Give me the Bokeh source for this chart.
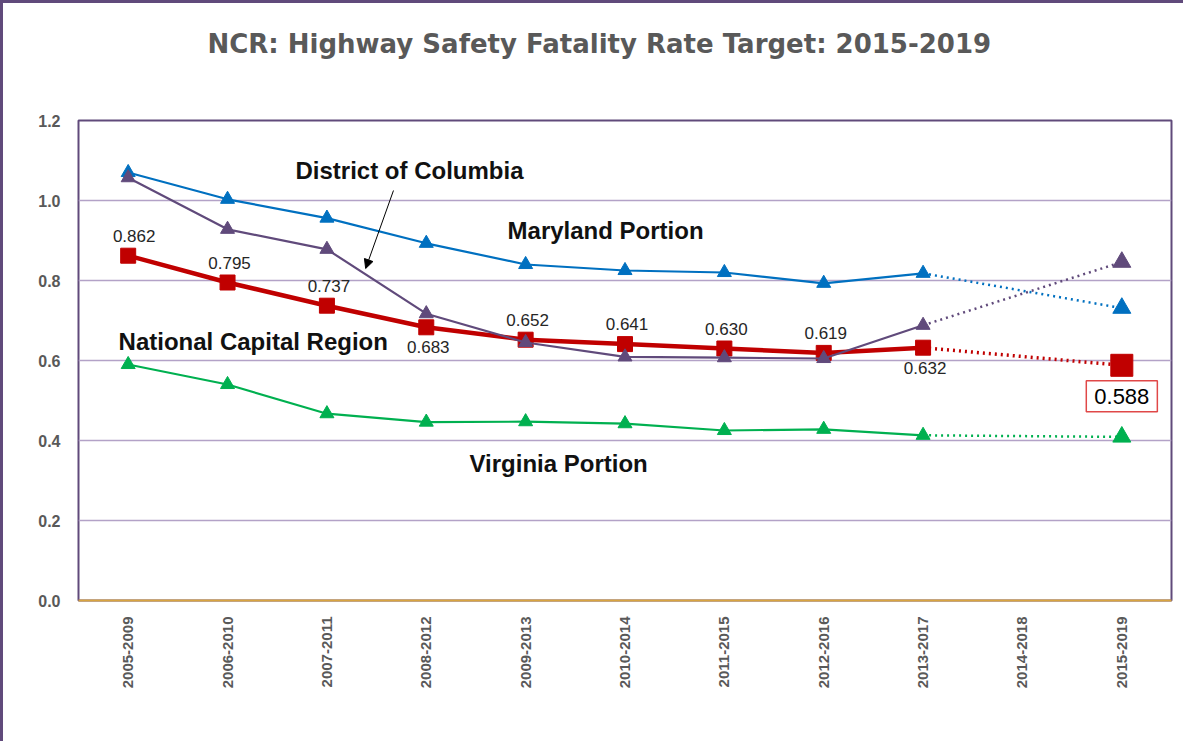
import math
from bokeh.plotting import figure
from bokeh.models import (Range1d, FixedTicker, ColumnDataSource, Label, Arrow,
                          NormalHead, PrintfTickFormatter, Title)
from bokeh.core.properties import value
from bokeh.embed import file_html
from bokeh.resources import INLINE

# ---------------- data ----------------
periods = ["2005-2009", "2006-2010", "2007-2011", "2008-2012", "2009-2013",
           "2010-2014", "2011-2015", "2012-2016", "2013-2017", "2014-2018",
           "2015-2019"]
ncr = [0.862, 0.795, 0.737, 0.683, 0.652, 0.641, 0.630, 0.619, 0.632, None, 0.588]
maryland = [1.070, 1.003, 0.956, 0.893, 0.840, 0.825, 0.820, 0.793, 0.818, None, 0.731]
dc = [1.057, 0.928, 0.878, 0.717, 0.645, 0.609, 0.607, 0.605, 0.688, None, 0.846]
virginia = [0.590, 0.540, 0.467, 0.446, 0.447, 0.442, 0.425, 0.428, 0.413, None, 0.409]
ncr_labels = ["0.862", "0.795", "0.737", "0.683", "0.652", "0.641", "0.630",
              "0.619", "0.632", "", "0.588"]
y_ticks = [0.0, 0.2, 0.4, 0.6, 0.8, 1.0, 1.2]

TITLE = "NCR: Highway Safety Fatality Rate Target: 2015-2019"

# ---------------- figure ----------------
p = figure(width=1183, height=741, output_backend="svg", toolbar_location=None,
           x_range=Range1d(-0.5, len(periods) - 0.5), y_range=Range1d(0, 1.2),
           min_border_left=75, min_border_right=15, min_border_top=117,
           min_border_bottom=144)
p.styles = {"border-left": "3px solid #604A7B", "border-top": "3px solid #604A7B"}

# spacer between title and frame (stacked nearest to the frame)
p.add_layout(Title(text=" ", text_font_size="10px", standoff=27), "above")

p.title.text = TITLE
p.title.align = "left"
p.title.offset = 129
p.title.vertical_align = "bottom"
p.title.standoff = 43
p.title.text_font = "DejaVu Sans"
p.title.text_font_size = "26px"
p.title.text_font_style = "bold"
p.title.text_color = "#595959"

p.outline_line_color = "#604A7B"
p.outline_line_width = 2
p.background_fill_color = "white"
p.border_fill_color = "white"

p.xgrid.grid_line_color = None
p.ygrid.grid_line_color = "#B3A2C7"
p.ygrid.grid_line_width = 1.5

xi = list(range(len(periods)))
p.xaxis.ticker = FixedTicker(ticks=xi)
p.xaxis.major_label_overrides = {i: s for i, s in zip(xi, periods)}
p.xaxis.major_label_orientation = math.pi / 2
p.xaxis.axis_line_color = "#D9A440"
p.xaxis.axis_line_width = 2
p.xaxis.major_tick_line_color = None
p.xaxis.minor_tick_line_color = None
p.xaxis.major_label_standoff = 10
p.xaxis.major_label_text_font = "Liberation Sans"
p.xaxis.major_label_text_font_style = "bold"
p.xaxis.major_label_text_font_size = "15px"
p.xaxis.major_label_text_color = "#595959"

p.yaxis.ticker = FixedTicker(ticks=y_ticks)
p.yaxis.formatter = PrintfTickFormatter(format="%.1f")
p.yaxis.axis_line_color = None
p.yaxis.major_tick_line_color = None
p.yaxis.minor_tick_line_color = None
p.yaxis.major_label_standoff = 12
p.yaxis.major_label_text_font = "Liberation Sans"
p.yaxis.major_label_text_font_style = "bold"
p.yaxis.major_label_text_font_size = "16px"
p.yaxis.major_label_text_color = "#595959"


def draw_series(vals, color, lw, marker, msize, msize_last, dot_w):
    known = [i for i, v in enumerate(vals) if v is not None]
    last_actual = known[-2]
    target = known[-1]
    sx = [i for i in known if i <= last_actual]
    sy = [vals[i] for i in sx]
    p.line(sx, sy, line_color=color, line_width=lw)
    p.line([last_actual, target], [vals[last_actual], vals[target]],
           line_color=color, line_width=dot_w, line_dash="2 4")
    p.scatter(sx, sy, marker=marker, size=msize, fill_color=color,
              line_color=color)
    p.scatter([target], [vals[target]], marker=marker, size=msize_last,
              fill_color=color, line_color=color)


draw_series(virginia, "#00B050", 2.2, "triangle", 14, 18, 2.5)
draw_series(maryland, "#0070C0", 2.2, "triangle", 14, 18, 2.5)
draw_series(ncr, "#C00000", 4.5, "square", 15, 22, 3.5)
draw_series(dc, "#604A7B", 2.2, "triangle", 14, 18, 2.5)

# data labels for NCR
lab_x, lab_y, lab_t, lab_dx, lab_dy = [], [], [], [], []
below = {3, 8}
for i, (v, t) in enumerate(zip(ncr, ncr_labels)):
    if v is None or i == len(ncr) - 1:
        continue
    lab_x.append(i)
    lab_y.append(v)
    lab_t.append(t)
    lab_dx.append(6 if i in (0,) else 2)
    lab_dy.append(20 if i in below else -20)
src = ColumnDataSource(dict(x=lab_x, y=lab_y, t=lab_t, dx=lab_dx, dy=lab_dy))
p.text(x="x", y="y", text="t", x_offset="dx", y_offset="dy", source=src,
       text_align="center", text_baseline="middle",
       text_font=value("Liberation Sans"), text_font_size="17px",
       text_color="#262626")

# target label box
p.add_layout(Label(x=len(ncr) - 1, y=ncr[-1], text=ncr_labels[-1],
                   x_offset=0, y_offset=-31, text_align="center",
                   text_baseline="middle", text_font="Liberation Sans",
                   text_font_size="22px", text_color="black",
                   border_line_color="#E04848", border_line_width=1.5,
                   background_fill_color="white", padding=8))

# series name annotations
names = [("District of Columbia", 1.684, 1.075),
         ("Maryland Portion", 3.818, 0.925),
         ("National Capital Region", -0.097, 0.6475),
         ("Virginia Portion", 3.435, 0.3425)]
for txt, x, y in names:
    p.add_layout(Label(x=x, y=y, text=txt, text_align="left",
                       text_baseline="middle", text_font="Liberation Sans",
                       text_font_size="24px", text_font_style="bold",
                       text_color="#111111"))

p.add_layout(Arrow(end=NormalHead(size=9, fill_color="black", line_color="black"),
                   x_start=2.67, y_start=1.025, x_end=2.39, y_end=0.83,
                   line_color="black", line_width=1))

open("out.html", "w").write(file_html(p, INLINE))
